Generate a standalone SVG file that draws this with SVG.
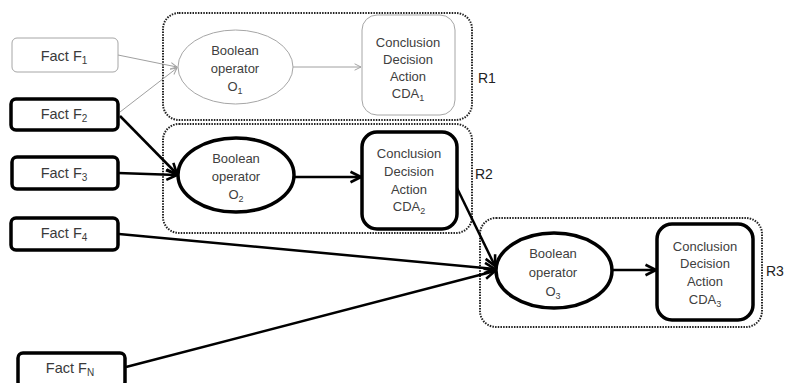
<svg xmlns="http://www.w3.org/2000/svg" width="785" height="383" viewBox="0 0 785 383">
<defs>
<style>
.t{font-family:"Liberation Sans",Arial,sans-serif;font-size:13px;fill:#404040;text-anchor:middle}
.f{font-family:"Liberation Sans",Arial,sans-serif;font-size:14.5px;fill:#3a3a3a;text-anchor:middle}
.lbl{font-family:"Liberation Sans",Arial,sans-serif;font-size:14px;fill:#222;text-anchor:start}
.thin{fill:#fff;stroke:#a6a6a6;stroke-width:1}
.thick{fill:#fff;stroke:#000;stroke-width:3.5}
.region{fill:none;stroke:#222;stroke-width:2;stroke-dasharray:1.5 1.2}
.cthin{fill:none;stroke:#a0a0a0;stroke-width:1}
.cthick{fill:none;stroke:#000;stroke-width:2.5}
</style>
<marker id="ah" markerUnits="userSpaceOnUse" viewBox="0 0 10 10" refX="9" refY="5" markerWidth="8" markerHeight="8" orient="auto">
<path d="M1,1 L9,5 L1,9" fill="none" stroke="#a0a0a0" stroke-width="1.2"/>
</marker>
<marker id="ahb" markerUnits="userSpaceOnUse" viewBox="0 0 12 12" refX="11" refY="6" markerWidth="14" markerHeight="14" orient="auto">
<path d="M2,1.5 L11,6 L2,10.5" fill="none" stroke="#000" stroke-width="2.2"/>
</marker>
</defs>

<g id="regions">
<rect id="R1" class="region" x="163" y="13" width="309" height="107" rx="16"/>
<rect id="R2" class="region" x="163" y="124" width="309" height="109" rx="16"/>
<rect id="R3" class="region" x="480" y="218" width="282" height="109" rx="16"/>
<text class="lbl" x="478" y="83">R1</text>
<text class="lbl" x="475" y="179">R2</text>
<text class="lbl" x="766" y="276">R3</text>
</g>

<g id="connectors">
<line class="cthin" x1="118" y1="55" x2="177" y2="67" marker-end="url(#ah)"/>
<line class="cthin" x1="120" y1="112" x2="177" y2="68" marker-end="url(#ah)"/>
<line class="cthin" x1="293" y1="67" x2="361" y2="67" marker-end="url(#ah)"/>
<line class="cthick" x1="120" y1="116" x2="177" y2="174" marker-end="url(#ahb)"/>
<line class="cthick" x1="118" y1="173" x2="177" y2="175" marker-end="url(#ahb)"/>
<line class="cthick" x1="294" y1="177" x2="361" y2="177" marker-end="url(#ahb)"/>
<line class="cthick" x1="456" y1="186" x2="495" y2="266" marker-end="url(#ahb)"/>
<line class="cthick" x1="119" y1="234" x2="495" y2="269" marker-end="url(#ahb)"/>
<line class="cthick" x1="126" y1="367" x2="495" y2="271" marker-end="url(#ahb)"/>
<line class="cthick" x1="612" y1="270" x2="656" y2="270" marker-end="url(#ahb)"/>
</g>

<g id="F1"><rect class="thin" x="12" y="38" width="106" height="34" rx="5"/><text class="f" x="64" y="61">Fact F<tspan font-size="10" dy="3">1</tspan></text></g>
<g id="F2"><rect class="thick" x="11" y="99" width="107" height="31" rx="5"/><text class="f" x="64" y="119">Fact F<tspan font-size="10" dy="3">2</tspan></text></g>
<g id="F3"><rect class="thick" x="12" y="157" width="106" height="32" rx="5"/><text class="f" x="64" y="178">Fact F<tspan font-size="10" dy="3">3</tspan></text></g>
<g id="F4"><rect class="thick" x="11" y="218" width="107" height="32" rx="5"/><text class="f" x="64" y="238">Fact F<tspan font-size="10" dy="3">4</tspan></text></g>
<g id="FN"><rect class="thick" x="18" y="353" width="107" height="34" rx="5"/><text class="f" x="70" y="373">Fact F<tspan font-size="10" dy="3">N</tspan></text></g>

<g id="O1"><ellipse class="thin" cx="235.5" cy="67" rx="57.5" ry="37"/>
<text class="t" x="235" y="55">Boolean</text><text class="t" x="235" y="73">operator</text><text class="t" x="235" y="91">O<tspan font-size="9" dy="3">1</tspan></text></g>
<g id="CDA1"><rect class="thin" x="362" y="15" width="93" height="100" rx="15"/>
<text class="t" x="408" y="47">Conclusion</text><text class="t" x="408" y="64">Decision</text><text class="t" x="408" y="81">Action</text><text class="t" x="408" y="98">CDA<tspan font-size="9" dy="3">1</tspan></text></g>

<g id="O2"><ellipse class="thick" cx="236" cy="175" rx="58" ry="37"/>
<text class="t" x="236" y="163">Boolean</text><text class="t" x="236" y="181">operator</text><text class="t" x="236" y="199">O<tspan font-size="9" dy="3">2</tspan></text></g>
<g id="CDA2"><rect class="thick" x="362" y="132" width="95" height="97" rx="15"/>
<text class="t" x="409" y="158">Conclusion</text><text class="t" x="409" y="176">Decision</text><text class="t" x="409" y="194">Action</text><text class="t" x="409" y="211">CDA<tspan font-size="9" dy="3">2</tspan></text></g>

<g id="O3"><ellipse class="thick" cx="554" cy="270.5" rx="58" ry="37.5"/>
<text class="t" x="553" y="258">Boolean</text><text class="t" x="553" y="277">operator</text><text class="t" x="553" y="296">O<tspan font-size="9" dy="3">3</tspan></text></g>
<g id="CDA3"><rect class="thick" x="657" y="224" width="96" height="96" rx="15"/>
<text class="t" x="705" y="251">Conclusion</text><text class="t" x="705" y="268">Decision</text><text class="t" x="705" y="286">Action</text><text class="t" x="705" y="304">CDA<tspan font-size="9" dy="3">3</tspan></text></g>
</svg>
